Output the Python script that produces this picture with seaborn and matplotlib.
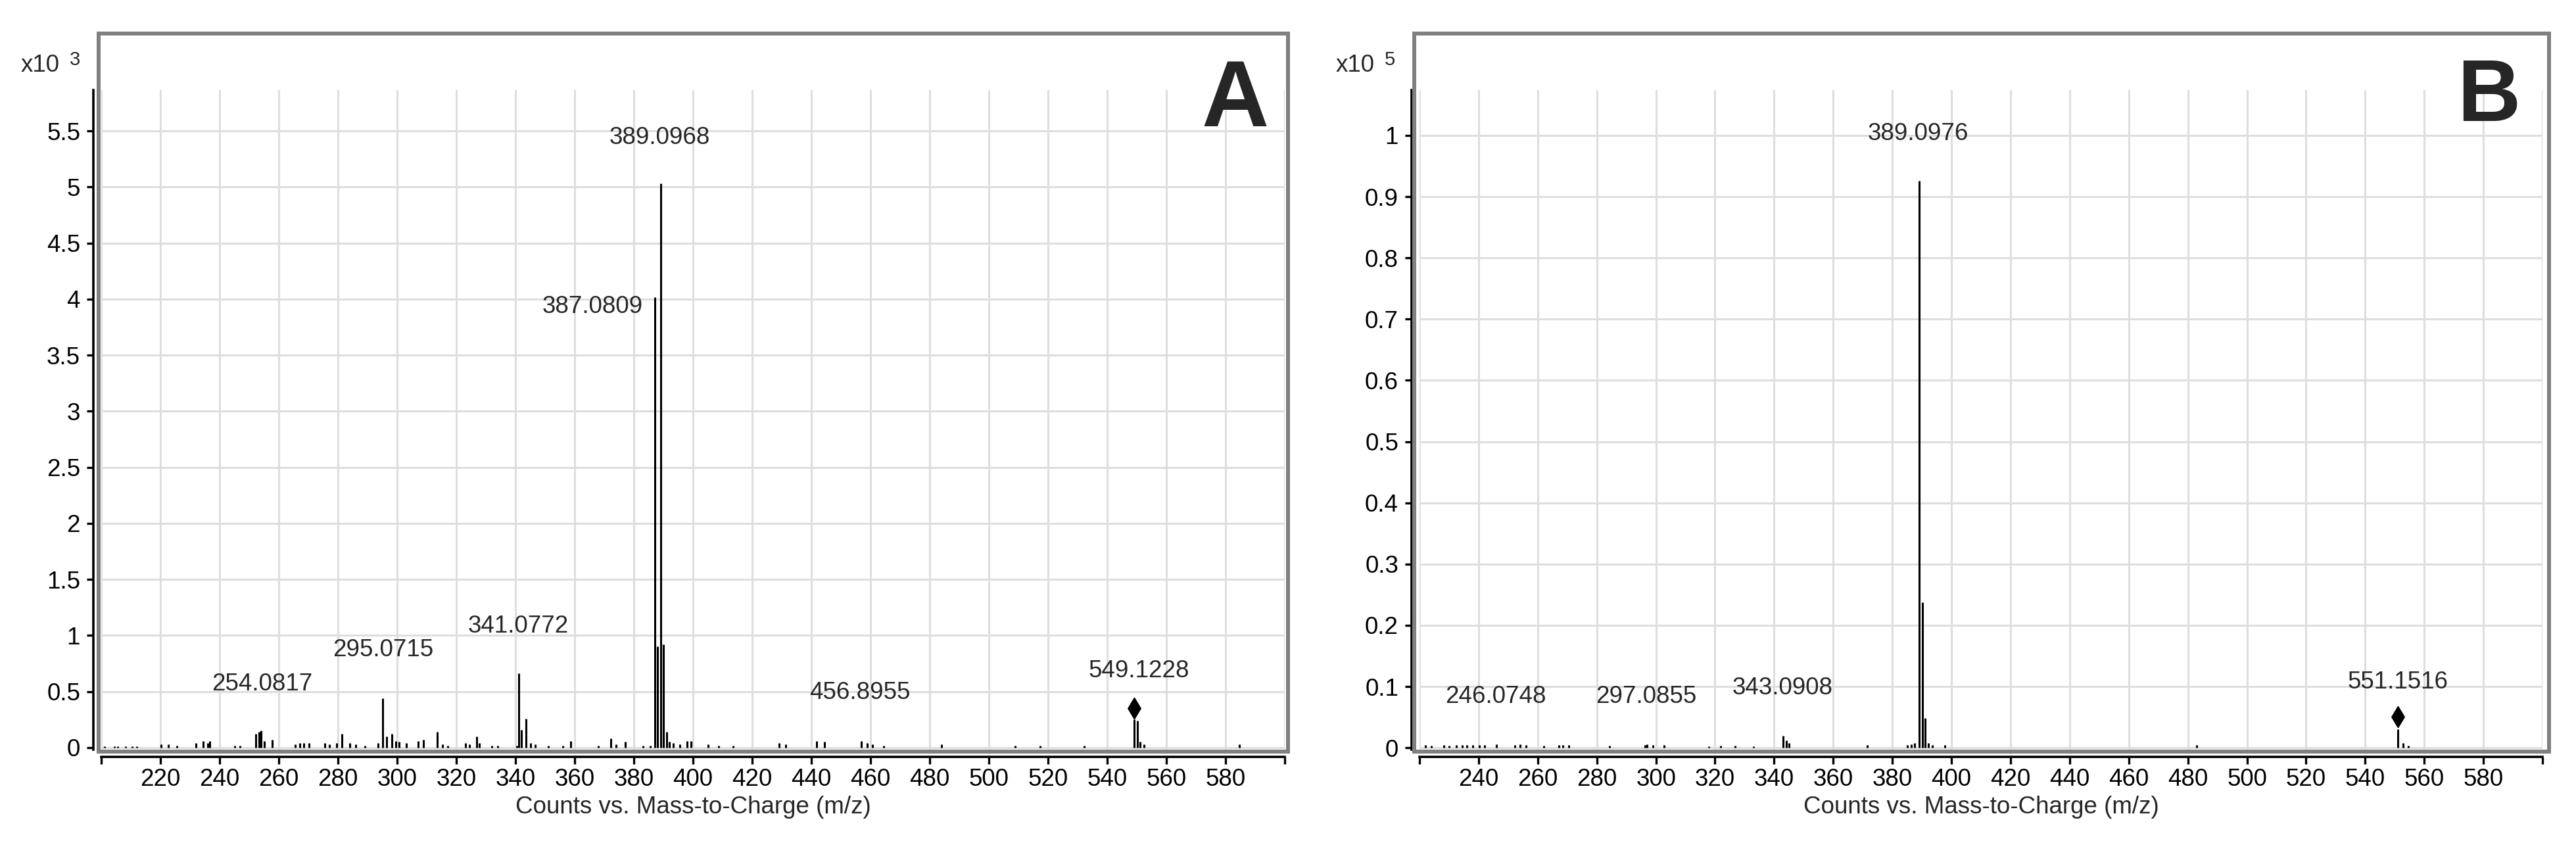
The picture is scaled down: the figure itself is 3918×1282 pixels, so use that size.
import numpy as np
import pandas as pd
import matplotlib
matplotlib.use("Agg")
import matplotlib.pyplot as plt
from matplotlib.patches import Rectangle
from matplotlib.ticker import FuncFormatter
import seaborn as sns

# ---- Panel A : counts in units of 10^3 ----
mz_a = [201.0, 204.5, 205.5, 208.3, 210.5, 212.0, 220.3, 222.7, 225.5, 232.0,
        234.4, 236.0, 236.7, 245.0, 246.8, 252.3, 253.4, 254.08, 255.0, 257.8,
        265.6, 267.0, 268.5, 270.2, 275.6, 277.0, 279.6, 281.4, 284.0, 286.0,
        289.0, 293.6, 295.07, 296.4, 298.3, 299.5, 300.6, 303.0, 307.0, 308.9,
        313.6, 315.4, 317.0, 323.2, 324.5, 326.8, 327.8, 332.0, 334.0, 340.4,
        341.08, 342.0, 343.5, 345.0, 346.6, 351.0, 356.0, 358.7, 368.0, 372.3,
        374.0, 377.0, 383.0, 385.6, 387.08, 388.09, 389.10, 390.10, 391.10, 392.1,
        393.4, 395.5, 398.0, 399.3, 405.0, 408.6, 413.6, 429.0, 431.3, 441.8,
        444.4, 456.9, 458.9, 460.7, 464.4, 484.0, 508.9, 517.3, 532.2, 549.12,
        550.13, 551.13, 552.4, 584.7]
counts_a = [0.01, 0.01, 0.01, 0.01, 0.01, 0.01, 0.03, 0.03, 0.02, 0.04,
            0.06, 0.04, 0.06, 0.02, 0.02, 0.12, 0.14, 0.15, 0.06, 0.07,
            0.03, 0.04, 0.04, 0.04, 0.04, 0.03, 0.04, 0.12, 0.04, 0.03,
            0.02, 0.04, 0.44, 0.10, 0.12, 0.06, 0.05, 0.04, 0.06, 0.07,
            0.14, 0.03, 0.02, 0.04, 0.03, 0.10, 0.04, 0.02, 0.02, 0.02,
            0.66, 0.16, 0.26, 0.04, 0.03, 0.02, 0.02, 0.06, 0.02, 0.08,
            0.03, 0.05, 0.02, 0.02, 4.02, 0.90, 5.03, 0.92, 0.14, 0.05,
            0.04, 0.03, 0.06, 0.06, 0.03, 0.02, 0.02, 0.04, 0.03, 0.06,
            0.05, 0.06, 0.04, 0.03, 0.02, 0.03, 0.02, 0.02, 0.02, 0.25,
            0.24, 0.05, 0.03, 0.03]
labels_a = ["254.0817", "295.0715", "341.0772", "387.0809", "389.0968", "456.8955", "549.1228"]
label_x_a = [254.4, 295.3, 340.9, 383.0, 388.7, 456.4, 550.7]
label_y_a = [0.565, 0.87, 1.08, 3.93, 5.44, 0.49, 0.68]
label_ha_a = ["center", "center", "center", "right", "center", "center", "center"]
precursor_a = [549.12]
precursor_y_a = [0.35]

# ---- Panel B : counts in units of 10^5 ----
mz_b = [222.0, 224.0, 228.2, 230.0, 232.5, 234.5, 236.0, 238.0, 240.2, 242.0,
        246.07, 252.3, 254.0, 256.0, 262.0, 267.2, 268.5, 270.5, 284.3, 296.3,
        297.09, 299.0, 302.8, 318.0, 322.0, 326.8, 333.0, 343.09, 344.1, 345.1,
        371.5, 385.0, 386.5, 387.5, 389.10, 390.1, 391.1, 392.1, 393.5, 397.8,
        483.0, 551.15, 552.9, 554.7]
counts_b = [0.004, 0.003, 0.004, 0.003, 0.004, 0.005, 0.004, 0.004, 0.004, 0.004,
            0.006, 0.005, 0.006, 0.004, 0.003, 0.004, 0.005, 0.004, 0.003, 0.005,
            0.006, 0.005, 0.004, 0.002, 0.003, 0.003, 0.002, 0.020, 0.012, 0.008,
            0.005, 0.004, 0.006, 0.008, 0.926, 0.238, 0.049, 0.008, 0.005, 0.004,
            0.004, 0.030, 0.008, 0.003]
labels_b = ["246.0748", "297.0855", "343.0908", "389.0976", "551.1516"]
label_x_b = [245.8, 296.8, 342.8, 388.6, 551.0]
label_y_b = [0.083, 0.083, 0.097, 1.003, 0.107]
label_ha_b = ["center"] * 5
precursor_b = [551.15]
precursor_y_b = [0.051]

W, H, DPI = 3918, 1282, 100
FS = 26.5


def fig_box(x0, y0, x1, y1):
    # pixel box (top-left origin) -> figure fraction rect
    return [x0 / W, 1 - y1 / H, (x1 - x0) / W, (y1 - y0) / H]


def fmt(v, pos):
    return "{:g}".format(round(v, 3))


def draw_panel(ax, df, xlim, ylim, yticks, labels, lx, ly, lha, pmz, py):
    ax.vlines(df["mz"], 0, df["counts"], color="black", lw=2.2, zorder=3)
    sns.scatterplot(x=pmz, y=py, marker="d", s=260, color="black",
                    edgecolor="black", ax=ax, zorder=4, legend=False)
    for txt, x, y, ha in zip(labels, lx, ly, lha):
        ax.text(x, y, txt, ha=ha, va="center", fontsize=FS, zorder=5)

    ax.set_xlim(*xlim)
    ax.set_ylim(*ylim)
    xt = np.arange(xlim[0], xlim[1] + 1, 20)
    ax.set_xticks(xt)
    ax.set_xticklabels(["" if (t == xlim[0] or t == xlim[1]) else str(int(t)) for t in xt])
    ax.set_yticks(yticks)
    ax.yaxis.set_major_formatter(FuncFormatter(fmt))

    ax.grid(True, color="#dedede", lw=2.2)
    ax.set_axisbelow(True)
    for s in ["top", "right"]:
        ax.spines[s].set_visible(False)
    for s in ["left", "bottom"]:
        ax.spines[s].set_color("black")
        ax.spines[s].set_linewidth(2.6)
    ax.spines["left"].set_position(("outward", 9))
    ax.spines["bottom"].set_position(("outward", 8))
    ax.tick_params(axis="both", bottom=True, left=True, direction="out",
                   width=2.4, colors="black", labelsize=FS)
    ax.tick_params(axis="y", length=7, pad=7)
    ax.tick_params(axis="x", length=8, pad=4)
    ax.set_xlabel("Counts vs. Mass-to-Charge (m/z)", fontsize=FS, labelpad=5)
    ax.set_ylabel("")
    ax.set_facecolor("white")


sns.set_theme(style="white")
plt.rcParams["font.family"] = ["Liberation Sans", "DejaVu Sans"]

fig = plt.figure(figsize=(W / DPI, H / DPI), dpi=DPI)
fig.patch.set_facecolor("white")

df_a = pd.DataFrame({"mz": mz_a, "counts": counts_a})
df_b = pd.DataFrame({"mz": mz_b, "counts": counts_b})

ax_a = fig.add_axes(fig_box(154, 137, 1954, 1140))
draw_panel(ax_a, df_a, (200, 600), (-0.018, 5.865), np.arange(0, 5.51, 0.5),
           labels_a, label_x_a, label_y_a, label_ha_a, precursor_a, precursor_y_a)

ax_b = fig.add_axes(fig_box(2159, 137, 3867, 1140))
draw_panel(ax_b, df_b, (220, 600), (-0.003, 1.074), np.arange(0, 1.01, 0.1),
           labels_b, label_x_b, label_y_b, label_ha_b, precursor_b, precursor_y_b)

# gray instrument frames around each panel
for box in [fig_box(150, 51, 1959, 1143), fig_box(2151, 51, 3877, 1143)]:
    fig.add_artist(Rectangle((box[0], box[1]), box[2], box[3], transform=fig.transFigure,
                             fill=False, ec="#808080", lw=4.3, zorder=10))

# scale factors
fig.text(32 / W, 1 - 109 / H, "x10", fontsize=FS, va="baseline", ha="left")
fig.text(106 / W, 1 - 99 / H, "3", fontsize=21, va="baseline", ha="left")
fig.text(2032 / W, 1 - 109 / H, "x10", fontsize=FS, va="baseline", ha="left")
fig.text(2106 / W, 1 - 99 / H, "5", fontsize=21, va="baseline", ha="left")

# panel letters
fig.text(1930 / W, 1 - 192 / H, "A", fontsize=102, weight="bold", va="baseline", ha="right")
fig.text(3833 / W, 1 - 184 / H, "B", fontsize=96, weight="bold", va="baseline", ha="right")

fig.savefig("out.png", dpi=DPI, facecolor="white")
